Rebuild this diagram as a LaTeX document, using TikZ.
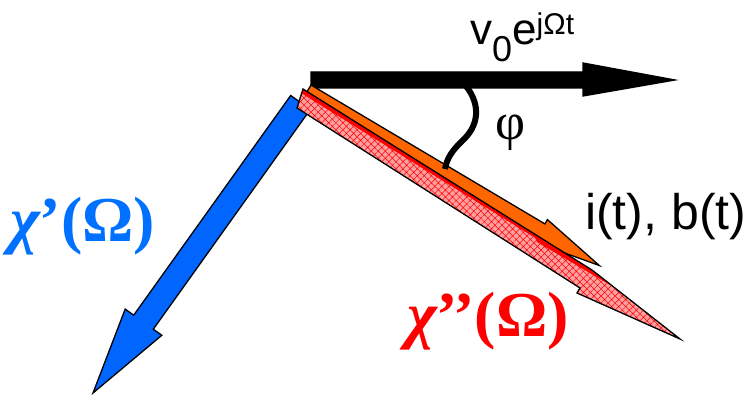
\documentclass[tikz,border=0pt]{standalone}
\usepackage{fontspec}
\setmainfont{Liberation Sans}
\newfontfamily\tnr{Liberation Serif}
\usetikzlibrary{patterns.meta}
\definecolor{myblue}{RGB}{0,102,255}
\definecolor{txtblue}{RGB}{0,112,255}
\definecolor{myorange}{RGB}{255,102,0}
\definecolor{mypink}{RGB}{255,160,160}
\begin{document}
\begin{tikzpicture}[x=1pt,y=-1pt,
  outl/.style={draw=black,line width=1.3pt,line join=miter},
  lbl/.style={inner sep=0pt,anchor=base west},
  hatched/.style={preaction={fill=mypink},pattern={Hatch[angle=45,distance=5pt,line width=0.5pt]},pattern color=red}]
\useasboundingbox (0,0) rectangle (756,395);
% black arrow v0 e^{j Omega t}
\filldraw[outl,fill=black] (311,72) -- (583,72) -- (583,63) -- (675,80) -- (583,96) -- (583,88) -- (311,88) -- cycle;
% blue arrow chi'
\filldraw[outl,fill=myblue] (290.7,95.5) -- (310.3,109.5) -- (153.3,329.2) -- (161.8,335.3) -- (93,393) -- (125.2,309.1) -- (133.7,315.2) -- cycle;
% orange arrow i(t), b(t)
\filldraw[outl,fill=myorange] (311,85) -- (544.9,223.9) -- (547.4,219.6) -- (599.3,265.5) -- (534.2,242.0) -- (536.7,237.7) -- (302.8,98.8) -- cycle;
% red hatched arrow chi''
\fill[hatched] (303,89) -- (592,270) -- (680,339) -- (577,293) -- (580,288) -- (297,108) -- cycle;
\fill[red] (303,89) -- (592,270) -- (612,286) -- (537,242) -- (535,237.8) -- (302,93.6) -- cycle;
\draw[outl] (303,89) -- (592,270) -- (680,339) -- (577,293) -- (580,288) -- (297,108) -- cycle;
% angle phi curve
\draw[line width=6pt] (466,86) .. controls (481,105) and (479,126) .. (462,141) .. controls (452,151) and (447,158) .. (445,169);
% labels
\node[lbl] (v) at (470,45) {\fontsize{44}{44}\selectfont v\raisebox{-17pt}{\fontsize{36}{36}\selectfont 0}e\raisebox{10pt}{\fontsize{30}{30}\selectfont jΩt}};
\node[lbl] (phi) at (495,140) {\fontsize{52}{52}\selectfont\tnr φ};
\node[lbl] (ib) at (585,230) {\fontsize{50}{50}\selectfont i(t), b(t)};
\node[lbl,text=txtblue] (chi1) at (10,242) {\fontsize{64}{64}\selectfont\tnr\bfseries{\itshape χ}’(Ω)};
\node[lbl,text=red] (chi2) at (407,337) {\fontsize{64}{64}\selectfont\tnr\bfseries{\itshape χ}’’(Ω)};
\end{tikzpicture}
\end{document}
